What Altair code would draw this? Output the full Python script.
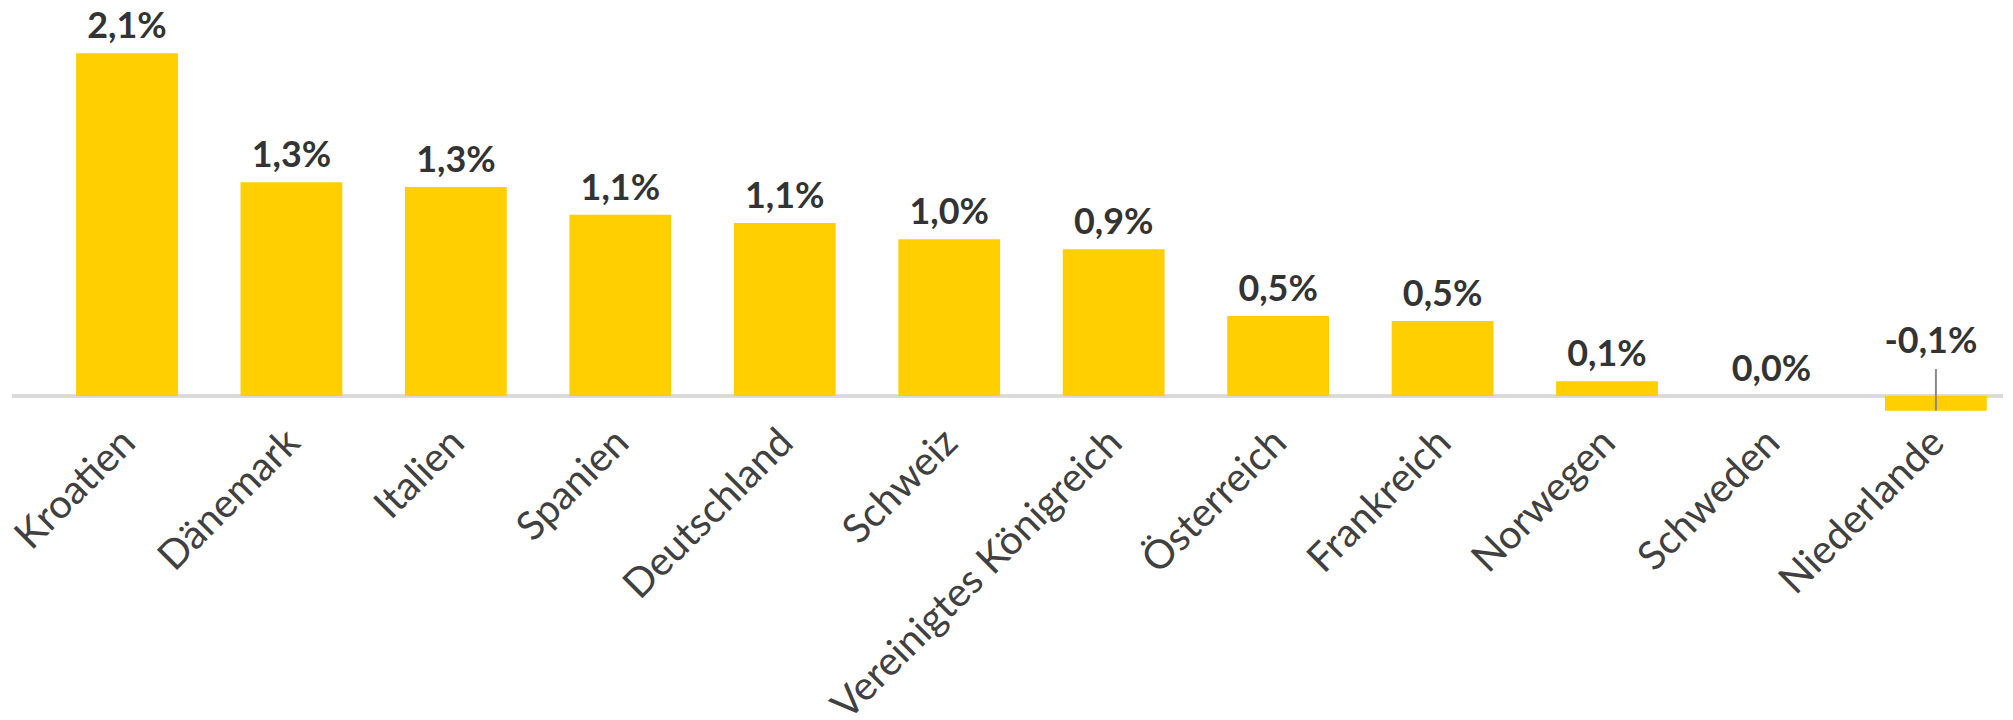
import altair as alt
import pandas as pd

laender = ["Kroatien", "Dänemark", "Italien", "Spanien", "Deutschland", "Schweiz",
           "Vereinigtes Königreich", "Österreich", "Frankreich", "Norwegen",
           "Schweden", "Niederlande"]
werte = [2.10, 1.31, 1.28, 1.11, 1.06, 0.96, 0.90, 0.49, 0.46, 0.09, 0.0, -0.09]

df = pd.DataFrame({"Land": laender, "Wert": werte})
df["label"] = [f"{v:.1f}".replace(".", ",") + "%" for v in werte]

BAR = "#FFCF01"
W, H = 1931, 393

xaxis = alt.Axis(labelAngle=-45, labelAlign="right", labelBaseline="top",
                 labelFont="Lato", labelFontSize=40, labelColor="#404040",
                 labelPadding=9, labelOffset=-12, labelLimit=1000, ticks=False,
                 domain=False, grid=False, title=None)
xscale = alt.Scale(paddingInner=0.381, paddingOuter=0.05)
yscale = alt.Scale(domain=[-0.1038, 2.3], nice=False)


def xenc():
    return alt.X("Land:N", sort=laender, scale=xscale, axis=xaxis)


def yenc(field):
    return alt.Y(field, scale=yscale, axis=None)


base = alt.Chart(df).transform_calculate(
    labelY="max(datum.Wert, 0)",
    zeroY="0",
    leaderY="0.165",
)

bars = base.mark_bar(color=BAR).encode(x=xenc(), y=yenc("Wert:Q"))

zero = base.mark_rule(color="#D9D9D9", strokeWidth=2.5).encode(
    x=alt.value(-56), x2=alt.value(W + 8), y=yenc("zeroY:Q")
)

labels_pos = base.transform_filter("datum.Wert >= 0").mark_text(
    font="Lato", fontWeight="bold", fontSize=36, color="#333333",
    baseline="alphabetic", dy=-15
).encode(x=xenc(), y=yenc("labelY:Q"), text="label:N")

labels_neg = base.transform_filter("datum.Wert < 0").mark_text(
    font="Lato", fontWeight="bold", fontSize=36, color="#333333",
    baseline="alphabetic", dy=-43, dx=-5
).encode(x=xenc(), y=yenc("labelY:Q"), text="label:N")

leader = base.transform_filter("datum.Wert < 0").mark_rule(
    color="#888888", strokeWidth=2
).encode(x=xenc(), y=yenc("Wert:Q"), y2="leaderY:Q")

chart = alt.layer(zero, bars, leader, labels_pos, labels_neg).properties(
    width=W, height=H, padding=0
).configure_view(strokeWidth=0)

chart.save("out.html", embed_options={"renderer": "svg", "actions": False})
